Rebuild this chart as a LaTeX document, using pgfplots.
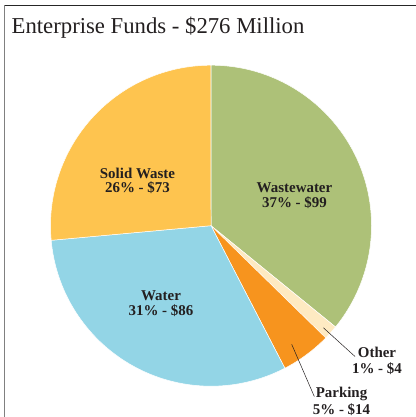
\documentclass[border=0pt]{standalone}
\usepackage{pgfplots}
\pgfplotsset{compat=1.18}
\usepackage{pgfplotstable}
\usepackage{fontspec}
\setmainfont{Liberation Serif}

\definecolor{wedge0}{HTML}{ADC178}% Wastewater
\definecolor{wedge1}{HTML}{FEEAC2}% Other
\definecolor{wedge2}{HTML}{F7941E}% Parking
\definecolor{wedge3}{HTML}{93D5E6}% Water
\definecolor{wedge4}{HTML}{FEC44F}% Solid Waste
\definecolor{ink}{HTML}{231F20}

\pgfplotstableread{
name value
Wastewater 99
Other 4
Parking 14
Water 86
SolidWaste 73
}\fundtable

\newcommand\lbl{\fontsize{15}{15}\selectfont\bfseries}

\begin{document}
\begin{tikzpicture}
% total and wedge angles, clockwise from 12 o'clock
\def\total{0}
\pgfplotsforeachungrouped \i in {0,...,4}{%
  \pgfplotstablegetelem{\i}{value}\of\fundtable
  \pgfmathsetmacro\total{\total+\pgfplotsretval}%
}
\def\cum{90}
\def\wedges{}
\pgfplotsforeachungrouped \i in {0,...,4}{%
  \pgfplotstablegetelem{\i}{value}\of\fundtable
  \pgfmathsetmacro\endang{\cum-\pgfplotsretval/\total*360}%
  \xdef\wedges{\unexpanded\expandafter{\wedges}%
    \noexpand\draw[white, line width=0.5pt, fill=wedge\i]
      (axis cs:211,191.3) -- +(\cum:160.5bp)
      arc[start angle=\cum, end angle=\endang, radius=160.5bp] -- cycle;}%
  \xdef\cum{\endang}%
}
\begin{axis}[
    scale only axis,
    width=416bp, height=417bp,
    xmin=0, xmax=416, ymin=0, ymax=417,
    hide axis, clip=false,
    at={(0,0)}, anchor=south west]
  \wedges
  % frame and title
  \draw[color=black!85, line width=1.2pt] (axis cs:4,411.7) -- (axis cs:416,411.7);
  \draw[color=black!50, line width=1.4pt] (axis cs:4.5,411.7) -- (axis cs:4.5,0);
  \node[anchor=base west, inner sep=0pt, text=ink, font=\fontsize{22.8}{22.8}\selectfont]
    at (axis cs:11.5,383.7) {Enterprise Funds - \$276 Million};
  % leader lines
  \draw[ink, line width=0.5pt] (axis cs:323.3,89.3) -- (axis cs:355,60.5);
  \draw[ink, line width=0.5pt] (axis cs:291.7,72.7) -- (axis cs:314.3,20.5);
  % labels
  \begin{scope}[every node/.style={anchor=base, inner sep=0pt, text=ink, font=\lbl}]
    \node at (axis cs:294.5,224.5) {Wastewater};
    \node at (axis cs:294.5,209.5) {37\% - \$99};
    \node at (axis cs:137.5,238.7) {Solid Waste};
    \node at (axis cs:137.5,224) {26\% - \$73};
    \node at (axis cs:161,116.3) {Water};
    \node at (axis cs:161,101.3) {31\% - \$86};
    \node at (axis cs:377,59.7) {Other};
    \node at (axis cs:377,43.7) {1\% - \$4};
    \node at (axis cs:341.5,19.7) {Parking};
    \node at (axis cs:341.5,3) {5\% - \$14};
  \end{scope}
\end{axis}
\pgfresetboundingbox
\useasboundingbox (0,0) rectangle (416bp,417bp);
\end{tikzpicture}
\end{document}
